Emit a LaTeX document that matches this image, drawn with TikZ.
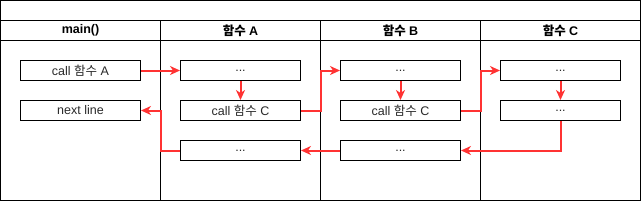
\documentclass[tikz,border=0pt]{standalone}
\usepackage{fontspec}
\setmainfont{Liberation Sans}
\newfontfamily\kr{Noto Sans CJK KR}
\usetikzlibrary{arrows.meta}
\definecolor{flow}{RGB}{255,51,51}
\definecolor{txt}{RGB}{40,40,40}
\begin{document}
\begin{tikzpicture}[x=1pt,y=-1pt,
  stepbox/.style={draw=black,line width=1pt,minimum width=120pt,minimum height=20pt,inner sep=0pt,font=\fontsize{12.5}{14}\selectfont,text=txt},
  hdr/.style={font=\bfseries\fontsize{12.5}{14}\selectfont,text=black},
  flowline/.style={draw=flow,line width=2pt,-{Stealth[length=10pt,width=9pt,inset=3pt]}},
  frame/.style={draw=black,line width=1pt}]
\useasboundingbox (-0.5,-0.5) rectangle (640.5,200.5);
\draw[frame] (0,0) rectangle (640,200);
\draw[frame] (0,20) -- (640,20);
\draw[frame] (0,40) -- (640,40);
\draw[frame] (160,20) -- (160,200);
\draw[frame] (320,20) -- (320,200);
\draw[frame] (480,20) -- (480,200);
\node[hdr] (h0) at (80,30) {main()};
\node[hdr] (h1) at (240,30) {{\kr 함수} A};
\node[hdr] (h2) at (400,30) {{\kr 함수} B};
\node[hdr] (h3) at (560,30) {{\kr 함수} C};
% main column
\node[stepbox] (m1) at (80,70) {call {\kr 함수} A};
\node[stepbox] (m2) at (80,110) {next line};
% A column
\node[stepbox] (a1) at (240,70) {...};
\node[stepbox] (a2) at (240,110) {call {\kr 함수} C};
\node[stepbox] (a3) at (240,150) {...};
% B column
\node[stepbox] (b1) at (400,70) {...};
\node[stepbox] (b2) at (400,110) {call {\kr 함수} C};
\node[stepbox] (b3) at (400,150) {...};
% C column
\node[stepbox] (c1) at (560,70) {...};
\node[stepbox] (c2) at (560,110) {...};
% connectors
\draw[flowline] (m1.east) -- (a1.west);
\draw[flowline] (a1.south) -- (a2.north);
\draw[flowline] (a2.east) -- (320,110) -- (320,70) -- (b1.west);
\draw[flowline] (b1.south) -- (b2.north);
\draw[flowline] (b2.east) -- (480,110) -- (480,70) -- (c1.west);
\draw[flowline] (c1.south) -- (c2.north);
\draw[flowline] (c2.south) -- (560,150) -- (b3.east);
\draw[flowline] (b3.west) -- (a3.east);
\draw[flowline] (a3.west) -- (160,150) -- (160,110) -- (m2.east);
\end{tikzpicture}
\end{document}
